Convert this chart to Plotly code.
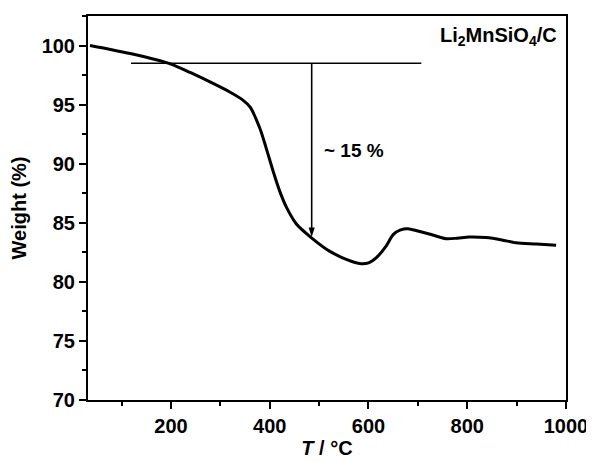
import plotly.graph_objects as go

temperature = [36, 80, 120, 160, 200, 240, 280, 320, 345, 360, 380, 393, 407, 420, 434, 454, 484,
               521, 555, 582, 600, 616, 636, 650, 665, 680, 700, 723, 757, 780, 804, 838,
               870, 899, 940, 980]
weight = [100.0, 99.65, 99.3, 98.9, 98.43, 97.7, 96.9, 96.05, 95.4, 94.8, 93.0, 91.3, 89.35, 87.7,
          86.3, 84.9, 83.75, 82.6, 81.9, 81.55, 81.6, 82.05, 83.05, 84.0, 84.4, 84.5,
          84.3, 84.05, 83.65, 83.7, 83.8, 83.75, 83.55, 83.3, 83.2, 83.1]

ref_line_x = [119, 707]
ref_level = 98.5
arrow_x = 485
arrow_end = 83.8
loss_label = "~ 15 %"
sample_label = "Li<sub>2</sub>MnSiO<sub>4</sub>/C"

font_family = "Liberation Sans, Arial, sans-serif"

fig = go.Figure()
fig.add_trace(go.Scatter(x=temperature, y=weight, mode="lines",
                         line=dict(color="black", width=3, shape="spline", smoothing=0.8),
                         showlegend=False, hoverinfo="skip"))
fig.add_trace(go.Scatter(x=ref_line_x, y=[ref_level, ref_level], mode="lines",
                         line=dict(color="black", width=1.6), showlegend=False, hoverinfo="skip"))
fig.add_trace(go.Scatter(x=[arrow_x, arrow_x], y=[ref_level, arrow_end + 0.6], mode="lines",
                         line=dict(color="black", width=1.6), showlegend=False, hoverinfo="skip"))
fig.add_trace(go.Scatter(x=[arrow_x], y=[arrow_end], mode="markers",
                         marker=dict(symbol="arrow", angle=180, size=10, color="black",
                                     line=dict(width=0)),
                         showlegend=False, hoverinfo="skip"))

fig.add_annotation(x=505, y=91.1, xref="x", yref="y", text=loss_label,
                   showarrow=False, xanchor="left", yanchor="middle",
                   font=dict(family=font_family, size=19, color="black", weight="bold"))
fig.add_annotation(x=0.985, y=0.985, xref="paper", yref="paper", text=sample_label,
                   showarrow=False, xanchor="right", yanchor="top",
                   font=dict(family=font_family, size=20, color="black", weight="bold"))

axis_common = dict(showgrid=False, zeroline=False, showline=True, linecolor="black", linewidth=2,
                   mirror=True, ticks="outside", ticklen=7, tickwidth=2, tickcolor="black",
                   tickfont=dict(family=font_family, size=20, color="black", weight="bold"))

fig.update_xaxes(range=[32, 1000], tick0=200, dtick=200,
                 minor=dict(dtick=100, tick0=0, ticks="outside", ticklen=4, tickwidth=2, tickcolor="black"),
                 title=dict(text="<i>T</i> / °C",
                            font=dict(family=font_family, size=20, color="black", weight="bold"),
                            standoff=4),
                 **axis_common)
fig.update_yaxes(range=[70, 102.5], tick0=70, dtick=5,
                 minor=dict(dtick=2.5, tick0=70, ticks="outside", ticklen=4, tickwidth=2, tickcolor="black"),
                 title=dict(text="Weight (%)",
                            font=dict(family=font_family, size=20, color="black", weight="bold"),
                            standoff=10),
                 **axis_common)

# page body has an 8px default margin, so the figure is offset by 8px in the window
fig.update_layout(width=586, height=454, margin=dict(l=80, r=28, t=6, b=62),
                  plot_bgcolor="white", paper_bgcolor="white")

fig.write_html("out.html")
